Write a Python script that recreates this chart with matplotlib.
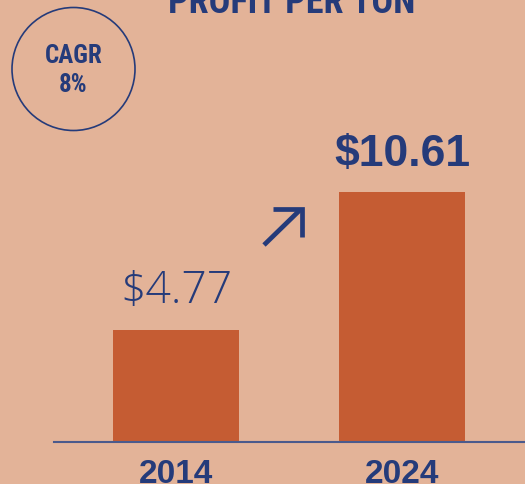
import matplotlib.pyplot as plt
from matplotlib import font_manager
from matplotlib.patches import Circle
from matplotlib.lines import Line2D

# data
years = ['2014', '2024']
profit = [4.77, 10.61]
value_labels = ['$4.77', '$10.61']
cagr_lines = ['CAGR', '8%']
title = 'PROFIT PER TON'

bg = '#E3B398'
bar_color = '#C55C33'
navy = '#253B7A'

fonts = font_manager.fontManager.ttflist
names = {f.name for f in fonts}

# pick a condensed face if one is installed
if 'Liberation Sans Narrow' in names:
    narrow = dict(family=['Liberation Sans Narrow', 'DejaVu Sans'])
elif 'Roboto Condensed' in names:
    narrow = dict(family=['Roboto Condensed', 'DejaVu Sans'])
else:
    narrow = dict(family=['DejaVu Sans'], fontstretch='condensed')

# a light (300) face for the first value label
light = dict(family=['Roboto', 'DejaVu Sans'], fontweight='normal')
for fam in ['Open Sans', 'Lato', 'Inter', 'Roboto']:
    if any(f.name == fam and f.weight in (300, 'light') for f in fonts):
        light = dict(family=[fam, 'DejaVu Sans'], fontweight=300)
        break

fig = plt.figure(figsize=(5.25, 4.84), dpi=100, facecolor=bg)
ax = fig.add_axes([54 / 525, 42 / 484, 471 / 525, 442 / 484])
ax.set_facecolor(bg)

x = range(len(years))
ax.bar(x, profit, width=0.558, color=bar_color)
ax.set_xlim(-0.540, 1.544)
ax.set_ylim(0, 18.76)

for spine in ['top', 'right', 'left']:
    ax.spines[spine].set_visible(False)
ax.spines['bottom'].set_color('#4B5A8C')
ax.spines['bottom'].set_linewidth(1.5)
ax.set_yticks([])
ax.set_xticks(list(x))
ax.set_xticklabels(years, fontsize=24, fontweight='bold', color=navy,
                   family=['Liberation Sans', 'DejaVu Sans'])
ax.tick_params(axis='x', length=0, pad=12)

# value labels
ax.text(0, profit[0] + 1.15, value_labels[0], ha='center', va='baseline',
        fontsize=32, color=navy, **light)
ax.text(1, profit[1] + 1.10, value_labels[1], ha='center', va='baseline',
        fontsize=32, fontweight='bold', color=navy,
        family=['Liberation Sans', 'DejaVu Sans'])

# growth arrow, drawn in pixel coordinates
px = lambda X, Y: (X / 100, (484 - Y) / 100)
for pts in ([(264, 245), (300, 210)], [(273, 208.5), (302, 208.5), (302, 237)]):
    xs, ys = zip(*[px(*p) for p in pts])
    fig.add_artist(Line2D(xs, ys, transform=fig.dpi_scale_trans, color=navy,
                          lw=3.4, solid_joinstyle='miter', solid_capstyle='butt'))

# title (cut off at top)
fig.text(292 / 525, 1 - 13 / 484, title, ha='center', va='baseline',
         fontsize=26, fontweight='bold', color=navy, **narrow)

# CAGR circle
fig.add_artist(Circle(px(73.5, 69), 0.615, transform=fig.dpi_scale_trans,
                      fill=False, edgecolor=navy, lw=1.2))
for line, base in zip(cagr_lines, [63, 92]):
    fig.text(73.5 / 525, 1 - base / 484, line, ha='center', va='baseline',
             fontsize=18, fontweight='bold', color=navy, **narrow)

fig.savefig('out.png', dpi=100, facecolor=bg)
